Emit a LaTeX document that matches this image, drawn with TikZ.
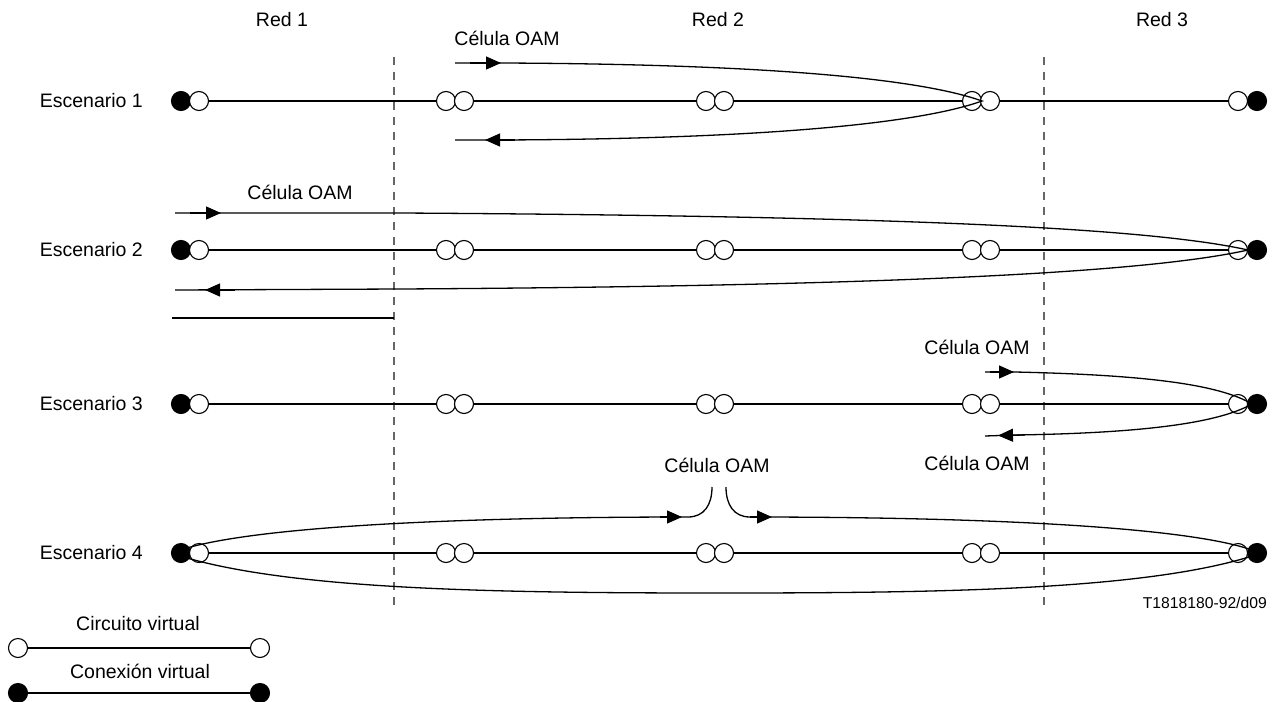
\documentclass[tikz,border=0pt]{standalone}
\usepackage{fontspec}
\setmainfont{Liberation Sans}
\usetikzlibrary{arrows.meta}
\begin{document}
\begin{tikzpicture}[x=1pt,y=-1pt,
  oc/.style={circle,draw,fill=white,line width=1.1pt,minimum size=19pt,inner sep=0pt},
  fc/.style={circle,draw,fill=black,line width=1.1pt,minimum size=19pt,inner sep=0pt},
  main/.style={line width=2pt},
  cell/.style={line width=1.3pt},
  arr/.style={line width=1.3pt,-{Triangle[length=15pt,width=13pt]}},
  lbl/.style={font=\fontsize{19.5}{23}\selectfont, inner sep=0pt},
  small/.style={font=\fontsize{15.7}{19}\selectfont, inner sep=0pt},
  bnd/.style={line width=1.2pt, draw=black!60, dash pattern=on 8pt off 7pt}]
\useasboundingbox (0,0) rectangle (1273,701);

% network boundaries
\coordinate (d1t) at (394,57);  \coordinate (d1b) at (394,605);
\coordinate (d2t) at (1044,57); \coordinate (d2b) at (1044,605);
\draw[bnd] (d1t) -- (d1b);
\draw[bnd] (d2t) -- (d2b);

% headers
\node[lbl] (red1) at (282,20) {Red 1};
\node[lbl] (red2) at (718,20) {Red 2};
\node[lbl] (red3) at (1162,20) {Red 3};

% rows
\foreach \r/\y in {1/101,2/250,3/404,4/553} {
  \node[fc] (F\r) at (181,\y) {};
  \node[oc] (A\r) at (199,\y) {};
  \node[oc] (B\r) at (446,\y) {};
  \node[oc] (C\r) at (464,\y) {};
  \node[oc] (D\r) at (706,\y) {};
  \node[oc] (E\r) at (724,\y) {};
  \node[oc] (G\r) at (972,\y) {};
  \node[oc] (H\r) at (990,\y) {};
  \node[oc] (I\r) at (1238,\y) {};
  \node[fc] (J\r) at (1257,\y) {};
  \draw[main] (A\r) -- (B\r) (C\r) -- (D\r) (E\r) -- (G\r) (H\r) -- (I\r);
  \node[lbl, anchor=east] (L\r) at (143,\y) {Escenario \r};
}

% Scenario 1
\node[lbl] (c1) at (507,38) {Célula OAM};
\coordinate (s1a) at (455,63);
\coordinate (s1b) at (455,140);
\coordinate (s1tip) at (982,101);
\draw[cell] (s1a) -- (500,63) .. controls (750,64) and (915,77) .. (s1tip)
            .. controls (915,125) and (750,139) .. (500,140) -- (s1b);
\draw[arr] (470,63) -- (501,63);
\draw[arr] (515,140) -- (485,140);

% Scenario 2
\node[lbl] (c2) at (300,192) {Célula OAM};
\coordinate (s2a) at (175,213);
\coordinate (s2b) at (175,290);
\coordinate (s2tip) at (1248,250);
\draw[cell] (s2a) -- (400,213) .. controls (900,216) and (1150,228) .. (s2tip)
            .. controls (1150,272) and (900,286) .. (400,289) -- (s2b);
\draw[arr] (190,213) -- (221,213);
\draw[arr] (235,290) -- (205,290);
\coordinate (s2l) at (172,318);
\coordinate (s2r) at (394,318);
\draw[main] (s2l) -- (s2r);

% Scenario 3
\node[lbl] (c3a) at (977,347) {Célula OAM};
\node[lbl] (c3b) at (977,463) {Célula OAM};
\coordinate (s3a) at (985,372);
\coordinate (s3b) at (985,436);
\coordinate (s3tip) at (1252,404);
\draw[cell] (s3a) -- (1015,372) .. controls (1150,375) and (1220,385) .. (s3tip)
            .. controls (1220,422) and (1150,433) .. (1015,435) -- (s3b);
\draw[arr] (990,372) -- (1014,372);
\draw[arr] (1025,435) -- (998,435.5);

% Scenario 4
\node[lbl] (c4) at (717,465) {Célula OAM};
\coordinate (s4lt) at (187,548);
\coordinate (s4lb) at (187,558);
\coordinate (s4rt) at (1249,549);
\coordinate (s4rb) at (1249,557);
\coordinate (s4m1) at (712,487);
\coordinate (s4m2) at (726,487);
\draw[cell] (s4lt) .. controls (260,527) and (450,517) .. (688,517)
            .. controls (704,517) and (712,505) .. (s4m1);
\draw[cell] (s4m2) .. controls (726,505) and (734,517) .. (750,517)
            .. controls (1000,517) and (1185,528) .. (s4rt);
\draw[cell] (s4lb) .. controls (300,590) and (500,593) .. (720,593)
            .. controls (940,593) and (1140,590) .. (s4rb);
\draw[arr] (660,517) -- (682,517);
\draw[arr] (750,517) -- (772,517);

% reference code
\node[small, anchor=east] (ref) at (1267,603) {T1818180-92/d09};

% legend
\node[lbl] (lg1) at (138,624) {Circuito virtual};
\node[oc] (lo1) at (18,648) {};
\node[oc] (lo2) at (260,648) {};
\draw[main] (lo1) -- (lo2);
\node[lbl] (lg2) at (140,671) {Conexión virtual};
\node[fc] (lf1) at (18,693) {};
\node[fc] (lf2) at (260,693) {};
\draw[main] (lf1) -- (lf2);
\end{tikzpicture}
\end{document}
